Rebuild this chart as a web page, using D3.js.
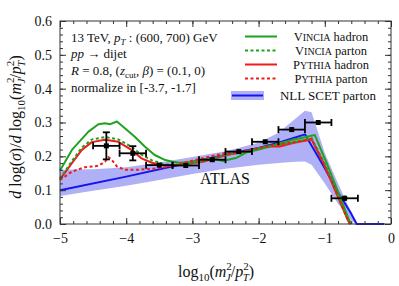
<!DOCTYPE html>
<html>
<head>
<meta charset="utf-8">
<script src="https://cdn.jsdelivr.net/npm/d3@7"></script>
<style>
  body { margin: 0; background: #fff; }
</style>
</head>
<body>
<div id="canvas"></div>
<script>
// ATLAS data points (bin centres, values, y errors), bins are 0.4 wide
var dataX = [-4.3, -3.9, -3.5, -3.1, -2.7, -2.3, -1.9, -1.5, -1.1, -0.7];
var dataY = [0.231, 0.209, 0.174, 0.173, 0.190, 0.214, 0.243, 0.279, 0.300, 0.076];
var dataErr = [0.040, 0.021, 0.006, 0.005, 0.005, 0.005, 0.006, 0.007, 0.006, 0.008];
var binHalf = 0.2;

// NLL SCET parton band + central line
var bandX   = [-5, -4.5, -4, -3.5, -3, -2.5, -2, -1.7, -1.45, -1.3, -1.2, -1.0, -0.8, -0.6, -0.5];
var bandLow = [0.083, 0.098, 0.113, 0.130, 0.148, 0.163, 0.175, 0.180, 0.184, 0.185, 0.175, 0.120, 0.060, 0.010, 0.0];
var bandHigh = [0.160, 0.162, 0.168, 0.182, 0.198, 0.215, 0.240, 0.270, 0.310, 0.335, 0.330, 0.210, 0.120, 0.035, 0.0];
var nllX = [-5, -4, -3, -2, -1.7, -1.3, -1.0, -0.82, -0.6, -0.52, -0.1];
var nllY = [0.100, 0.140, 0.183, 0.225, 0.240, 0.265, 0.165, 0.100, 0.030, 0.0, 0.0];

// Vincia hadron
var vhX = [-5, -4.82, -4.57, -4.42, -4.32, -4.24, -4.14, -4.02, -3.87, -3.72, -3.57, -3.41, -3.3, -3.19, -2.99, -2.84, -2.69, -2.54, -2.33, -2.18, -2.03, -1.83, -1.68, -1.48, -1.27, -1.15, -0.97, -0.77, -0.645, -0.6];
var vhY = [0.158, 0.219, 0.273, 0.295, 0.298, 0.295, 0.303, 0.283, 0.258, 0.229, 0.204, 0.189, 0.184, 0.181, 0.184, 0.190, 0.194, 0.186, 0.196, 0.212, 0.219, 0.229, 0.239, 0.249, 0.258, 0.263, 0.179, 0.081, 0.017, 0.0];
// Vincia parton
var vpX = [-5, -4.82, -4.67, -4.52, -4.32, -4.12, -3.92, -3.77, -3.61, -3.41, -3.19, -2.84, -2.48, -2.18, -1.88, -1.48, -1.2, -1.0, -0.8, -0.65, -0.6];
var vpY = [0.134, 0.186, 0.226, 0.250, 0.257, 0.250, 0.228, 0.205, 0.188, 0.176, 0.175, 0.186, 0.205, 0.215, 0.230, 0.241, 0.254, 0.178, 0.085, 0.012, 0.0];
// Pythia hadron
var phX = [-5, -4.82, -4.67, -4.52, -4.32, -4.12, -3.92, -3.77, -3.61, -3.41, -3.19, -2.84, -2.48, -2.18, -1.88, -1.68, -1.48, -1.2, -1.02, -0.82, -0.66, -0.62];
var phY = [0.132, 0.180, 0.219, 0.242, 0.249, 0.243, 0.219, 0.194, 0.181, 0.172, 0.175, 0.184, 0.204, 0.214, 0.229, 0.229, 0.239, 0.250, 0.180, 0.088, 0.015, 0.0];
// Pythia parton
var ppX = [-5, -4.82, -4.62, -4.42, -4.32, -4.27, -4.22, -4.14, -4.02, -3.82, -3.57, -3.41, -3.19, -2.9, -2.5, -2.18, -1.88, -1.48, -1.2, -1.02, -0.82, -0.66, -0.62];
var ppY = [0.130, 0.155, 0.168, 0.172, 0.184, 0.198, 0.190, 0.170, 0.160, 0.160, 0.164, 0.168, 0.178, 0.192, 0.210, 0.218, 0.229, 0.242, 0.252, 0.182, 0.090, 0.015, 0.0];

var xTicks = [-5, -4, -3, -2, -1, 0];
var yTicks = [0.0, 0.1, 0.2, 0.3, 0.4, 0.5, 0.6];

var infoLast = "normalize in [-3.7, -1.7]";
// legend names split as [capital, small-caps rest, plain rest]
var legendNames = [["V", "incia", " hadron"], ["V", "incia", " parton"], ["P", "ythia", " hadron"], ["P", "ythia", " parton"], ["NLL SCET parton", "", ""]];

var SERIF = "'Liberation Serif', 'Times New Roman', Times, 'DejaVu Serif', serif";
var W = 399, H = 286;
var margin = {top: 21, right: 8, bottom: 62, left: 60};

var svg = d3.select("#canvas").append("svg")
  .attr("width", W).attr("height", H)
  .attr("font-family", SERIF);

var x = d3.scaleLinear().domain([-5, 0]).range([margin.left, W - margin.right]);
var y = d3.scaleLinear().domain([0, 0.6]).range([H - margin.bottom, margin.top]);

var green = "#1fa21f", red = "#ee1c1c", blue = "#1414f0", bandCol = "#b0b0f6";

// band
var area = d3.area()
  .x(function(d, i) { return x(bandX[i]); })
  .y0(function(d, i) { return y(bandLow[i]); })
  .y1(function(d, i) { return y(bandHigh[i]); });
svg.append("path").datum(bandX).attr("d", area).attr("fill", bandCol);

function curve(xs, ys, col, dash) {
  var line = d3.line().x(function(d, i) { return x(xs[i]); }).y(function(d, i) { return y(ys[i]); });
  svg.append("path").datum(xs).attr("d", line)
    .attr("fill", "none").attr("stroke", col).attr("stroke-width", 2)
    .attr("stroke-dasharray", dash ? "3,2.5" : null)
    .attr("stroke-linejoin", "round");
}
curve(nllX, nllY, blue, false);
curve(phX, phY, red, false);
curve(vhX, vhY, green, false);
curve(vpX, vpY, green, true);
curve(ppX, ppY, red, true);

// data points
var pts = svg.append("g").attr("stroke", "#000").attr("stroke-width", 1.8);
dataX.forEach(function(v, i) {
  var cx = x(v), cy = y(dataY[i]);
  pts.append("line").attr("x1", x(v - binHalf)).attr("x2", x(v + binHalf)).attr("y1", cy).attr("y2", cy);
  pts.append("line").attr("x1", x(v - binHalf)).attr("x2", x(v - binHalf)).attr("y1", cy - 3.5).attr("y2", cy + 3.5);
  pts.append("line").attr("x1", x(v + binHalf)).attr("x2", x(v + binHalf)).attr("y1", cy - 3.5).attr("y2", cy + 3.5);
  var yt = y(dataY[i] + dataErr[i]), yb = y(dataY[i] - dataErr[i]);
  pts.append("line").attr("x1", cx).attr("x2", cx).attr("y1", yt).attr("y2", yb);
  if (yb - yt > 6) {
    pts.append("line").attr("x1", cx - 3.5).attr("x2", cx + 3.5).attr("y1", yt).attr("y2", yt);
    pts.append("line").attr("x1", cx - 3.5).attr("x2", cx + 3.5).attr("y1", yb).attr("y2", yb);
  }
  pts.append("rect").attr("x", cx - 2.5).attr("y", cy - 2.5).attr("width", 5).attr("height", 5)
    .attr("fill", "#000").attr("stroke", "none");
});

// frame and axes
var fmt = function(d) { return d < 0 ? "\u2212" + Math.abs(d) : String(d); };
var minorX = d3.range(-5, 0.001, 0.2), minorY = d3.range(0, 0.601, 0.02);

function axisStyle(g) {
  g.attr("font-family", SERIF).attr("font-size", 14);
  g.select(".domain").remove();
  g.selectAll(".tick line").attr("stroke", "#333");
  g.selectAll("text").attr("fill", "#111");
}
var by = H - margin.bottom, ty = margin.top, lx = margin.left, rx = W - margin.right;

svg.append("g").attr("transform", "translate(0," + by + ")")
  .call(d3.axisBottom(x).tickValues(minorX).tickSize(-3).tickFormat("")).call(axisStyle);
svg.append("g").attr("transform", "translate(0," + by + ")")
  .call(d3.axisBottom(x).tickValues(xTicks).tickSize(-6).tickPadding(9).tickFormat(fmt)).call(axisStyle);
svg.append("g").attr("transform", "translate(0," + ty + ")")
  .call(d3.axisTop(x).tickValues(minorX).tickSize(-3).tickFormat("")).call(axisStyle);
svg.append("g").attr("transform", "translate(0," + ty + ")")
  .call(d3.axisTop(x).tickValues(xTicks).tickSize(-6).tickFormat("")).call(axisStyle);
svg.append("g").attr("transform", "translate(" + lx + ",0)")
  .call(d3.axisLeft(y).tickValues(minorY).tickSize(-3).tickFormat("")).call(axisStyle);
svg.append("g").attr("transform", "translate(" + lx + ",0)")
  .call(d3.axisLeft(y).tickValues(yTicks).tickSize(-6).tickPadding(8).tickFormat(d3.format(".1f"))).call(axisStyle);
svg.append("g").attr("transform", "translate(" + rx + ",0)")
  .call(d3.axisRight(y).tickValues(minorY).tickSize(-3).tickFormat("")).call(axisStyle);
svg.append("g").attr("transform", "translate(" + rx + ",0)")
  .call(d3.axisRight(y).tickValues(yTicks).tickSize(-6).tickFormat("")).call(axisStyle);

svg.append("rect").attr("x", lx).attr("y", ty).attr("width", rx - lx).attr("height", by - ty)
  .attr("fill", "none").attr("stroke", "#333").attr("stroke-width", 1);

// annotation text
var info = svg.append("g").attr("font-size", 13).attr("fill", "#111");
var t1 = info.append("text").attr("x", 71).attr("y", 42);
t1.append("tspan").text("13 TeV,  ");
t1.append("tspan").attr("font-style", "italic").text("p");
t1.append("tspan").attr("font-style", "italic").attr("font-size", 9).attr("dy", 3).text("T");
t1.append("tspan").attr("dy", -3).text(" : (600, 700) GeV");
var t2 = info.append("text").attr("x", 71).attr("y", 58);
t2.append("tspan").attr("font-style", "italic").text("pp");
t2.append("tspan").text(" \u2192 dijet");
var t3 = info.append("text").attr("x", 71).attr("y", 75);
t3.append("tspan").attr("font-style", "italic").text("R");
t3.append("tspan").text(" = 0.8,   (");
t3.append("tspan").attr("font-style", "italic").text("z");
t3.append("tspan").attr("font-size", 9).attr("dy", 3).text("cut");
t3.append("tspan").attr("dy", -3).text(", ");
t3.append("tspan").attr("font-style", "italic").text("\u03b2");
t3.append("tspan").text(") = (0.1, 0)");
info.append("text").attr("x", 71).attr("y", 92).text(infoLast);

// legend
var leg = svg.append("g").attr("font-size", 12.5).attr("fill", "#111");
var legRows = [
  {y: 36.5, col: green, dash: false},
  {y: 50.5, col: green, dash: true},
  {y: 64.5, col: red, dash: false},
  {y: 78.5, col: red, dash: true}
];
legRows.forEach(function(r, i) {
  var n = legendNames[i];
  leg.append("line").attr("x1", 245).attr("x2", 277).attr("y1", r.y).attr("y2", r.y)
    .attr("stroke", r.col).attr("stroke-width", 2).attr("stroke-dasharray", r.dash ? "3,2.5" : null);
  var t = leg.append("text").attr("x", 331).attr("y", r.y + 4).attr("text-anchor", "middle");
  t.append("tspan").text(n[0]);
  t.append("tspan").attr("font-size", 10).text(n[1].toUpperCase());
  t.append("tspan").text(n[2]);
});
leg.append("rect").attr("x", 231).attr("y", 91).attr("width", 33).attr("height", 9).attr("fill", bandCol);
leg.append("line").attr("x1", 232).attr("x2", 263).attr("y1", 95.5).attr("y2", 95.5).attr("stroke", blue).attr("stroke-width", 2);
leg.append("text").attr("x", 328).attr("y", 100).attr("text-anchor", "middle").attr("font-size", 13).text(legendNames[4][0]);

// ATLAS label
svg.append("text").attr("x", 225).attr("y", 184).attr("text-anchor", "middle")
  .attr("font-size", 16).attr("fill", "#111").text("ATLAS");

// x axis title
var xl = svg.append("text").attr("x", 178).attr("y", 277).attr("font-size", 16).attr("fill", "#111");
xl.append("tspan").text("log");
xl.append("tspan").attr("font-size", 11).attr("dy", 4).text("10");
xl.append("tspan").attr("dy", -4).text("(");
xl.append("tspan").attr("font-style", "italic").text("m");
xl.append("tspan").attr("font-size", 11).attr("dy", -7).text("2");
xl.append("tspan").attr("font-size", 11).attr("font-style", "italic").attr("dx", -6).attr("dy", 11).text("J");
xl.append("tspan").attr("dy", -4).text("/");
xl.append("tspan").attr("font-style", "italic").text("p");
xl.append("tspan").attr("font-size", 11).attr("dy", -7).text("2");
xl.append("tspan").attr("font-size", 11).attr("font-style", "italic").attr("dx", -6).attr("dy", 11).text("T");
xl.append("tspan").attr("dy", -4).text(")");

// y axis title
var yl = svg.append("text").attr("transform", "translate(21,127) rotate(-90)")
  .attr("text-anchor", "middle").attr("font-size", 16).attr("fill", "#111");
yl.append("tspan").attr("font-style", "italic").text("d");
yl.append("tspan").text(" log(");
yl.append("tspan").attr("font-style", "italic").text("\u03c3");
yl.append("tspan").text(")/");
yl.append("tspan").attr("font-style", "italic").text("d");
yl.append("tspan").text(" log");
yl.append("tspan").attr("font-size", 11).attr("dy", 4).text("10");
yl.append("tspan").attr("dy", -4).text("(");
yl.append("tspan").attr("font-style", "italic").text("m");
yl.append("tspan").attr("font-size", 11).attr("dy", -7).text("2");
yl.append("tspan").attr("font-size", 11).attr("font-style", "italic").attr("dx", -6).attr("dy", 11).text("J");
yl.append("tspan").attr("dy", -4).text("/");
yl.append("tspan").attr("font-style", "italic").text("p");
yl.append("tspan").attr("font-size", 11).attr("dy", -7).text("2");
yl.append("tspan").attr("font-size", 11).attr("font-style", "italic").attr("dx", -6).attr("dy", 11).text("T");
yl.append("tspan").attr("dy", -4).text(")");
</script>
</body>
</html>
